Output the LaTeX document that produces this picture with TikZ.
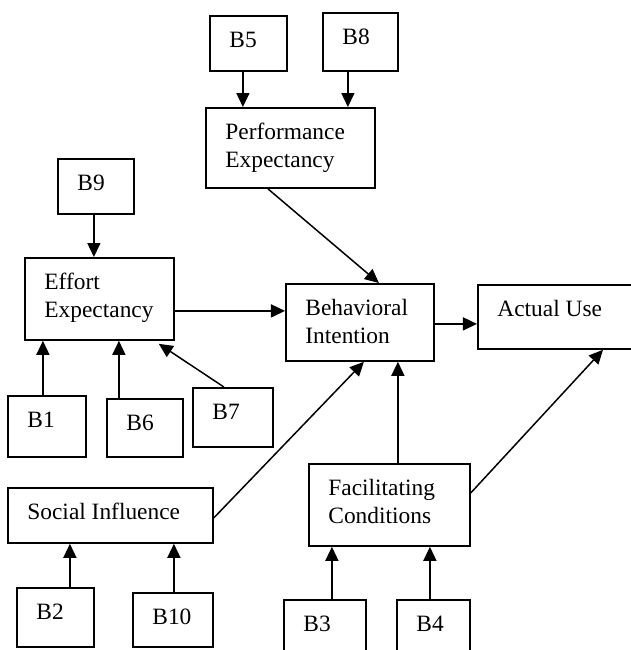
\documentclass[tikz,border=0pt]{standalone}
\usepackage{fontspec}
\setmainfont{Liberation Serif}
\usetikzlibrary{arrows.meta}
\begin{document}
\begin{tikzpicture}[x=0.5pt,y=-0.5pt,>={Triangle[length=7pt,width=6.5pt]}]
    \tikzstyle{every node}=[font=\fontsize{11.7}{14}\selectfont]
    \tikzset{box/.style={draw,line width=0.9pt,inner sep=0pt,anchor=north west},
      sz/.style 2 args={minimum width=#1*0.5pt,minimum height=#2*0.5pt},
      txt/.style={anchor=base west,inner sep=0pt,align=left},
      two/.style={txt,yshift=-14pt},
      arr/.style={->,line width=0.75pt}}
    \useasboundingbox (0,0) rectangle (631,650);

    % boxes
    \node[box,sz={77}{55}] (b5) at (209,15) {};
    \node[box,sz={75}{58}] (b8) at (322,12) {};
    \node[box,sz={169}{80}] (pe) at (205,107) {};
    \node[box,sz={76}{55}] (b9) at (57,158) {};
    \node[box,sz={149}{82}] (ee) at (24,257) {};
    \node[box,sz={148}{77}] (bi) at (285,283) {};
    \node[box,sz={170}{64}] (au) at (477,284) {};
    \node[box,sz={78}{61}] (b1) at (7,395) {};
    \node[box,sz={76}{58}] (b6) at (106,398) {};
    \node[box,sz={80}{59}] (b7) at (192,387) {};
    \node[box,sz={205}{55}] (si) at (7,487) {};
    \node[box,sz={77}{59}] (b2) at (16,587) {};
    \node[box,sz={80}{54}] (b10) at (132,592) {};
    \node[box,sz={161}{82}] (fc) at (308,463) {};
    \node[box,sz={82}{70}] (b3) at (283,599) {};
    \node[box,sz={73}{70}] (b4) at (396,599) {};

    % texts
    \node[txt] (b5-t) at ([shift={(10pt,-16pt)}]b5.north west) {B5};
    \node[txt] (b8-t) at ([shift={(10pt,-16pt)}]b8.north west) {B8};
    \node[two] (pe-t) at ([shift={(10pt,-16pt)}]pe.north west) {Performance\\Expectancy};
    \node[txt] (b9-t) at ([shift={(10pt,-16pt)}]b9.north west) {B9};
    \node[two] (ee-t) at ([shift={(10pt,-16pt)}]ee.north west) {Effort\\Expectancy};
    \node[two] (bi-t) at ([shift={(10pt,-16pt)}]bi.north west) {Behavioral\\Intention};
    \node[txt] (au-t) at ([shift={(10pt,-16pt)}]au.north west) {Actual Use};
    \node[txt] (b1-t) at ([shift={(10pt,-16pt)}]b1.north west) {B1};
    \node[txt] (b6-t) at ([shift={(10pt,-16pt)}]b6.north west) {B6};
    \node[txt] (b7-t) at ([shift={(10pt,-16pt)}]b7.north west) {B7};
    \node[txt] (si-t) at ([shift={(10pt,-16pt)}]si.north west) {Social Influence};
    \node[txt] (b2-t) at ([shift={(10pt,-16pt)}]b2.north west) {B2};
    \node[txt] (b10-t) at ([shift={(10pt,-16pt)}]b10.north west) {B10};
    \node[two] (fc-t) at ([shift={(10pt,-16pt)}]fc.north west) {Facilitating\\Conditions};
    \node[txt] (b3-t) at ([shift={(10pt,-16pt)}]b3.north west) {B3};
    \node[txt] (b4-t) at ([shift={(10pt,-16pt)}]b4.north west) {B4};

    % connectors
    \draw[arr] ([xshift=-2.75pt]b5.south) -- ([xshift=-2.75pt]b5.south |- pe.north);
    \draw[arr] ([xshift=-6.25pt]b8.south) -- ([xshift=-6.25pt]b8.south |- pe.north);
    \draw[arr] ([xshift=-1pt]b9.south) -- ([xshift=-1pt]b9.south |- ee.north);
    \draw[arr] ([xshift=-2pt]b1.north) -- ([xshift=-2pt]b1.north |- ee.south);
    \draw[arr] ([xshift=-13pt]b6.north) -- ([xshift=-13pt]b6.north |- ee.south);
    \draw[arr] ([xshift=-4.5pt]b7.north) -- ([shift={(-8pt,-1.5pt)}]ee.south east);
    \draw[arr] ([xshift=7.25pt]b2.north) -- ([xshift=7.25pt]b2.north |- si.south);
    \draw[arr] ([xshift=0.5pt]b10.north) -- ([xshift=0.5pt]b10.north |- si.south);
    \draw[arr] ([xshift=3.5pt]b3.north) -- ([xshift=3.5pt]b3.north |- fc.south);
    \draw[arr] ([xshift=-1.75pt]b4.north) -- ([xshift=-1.75pt]b4.north |- fc.south);
    \draw[arr] ([xshift=-11.25pt]pe.south) -- ([xshift=9.5pt]bi.north);
    \draw[arr] ([yshift=-6pt]ee.east) -- ([yshift=-6pt]ee.east -| bi.west);
    \draw[arr] ([yshift=-1.25pt]si.east) -- ([xshift=2pt]bi.south);
    \draw[arr] ([xshift=4.25pt]fc.north) -- ([xshift=4.25pt]fc.north |- bi.south);
    \draw[arr] ([yshift=-0.75pt]bi.east) -- ([yshift=-0.75pt]bi.east -| au.west);
    \draw[arr] ([yshift=6pt]fc.east) -- ([xshift=63pt]au.south west);
\end{tikzpicture}
\end{document}
